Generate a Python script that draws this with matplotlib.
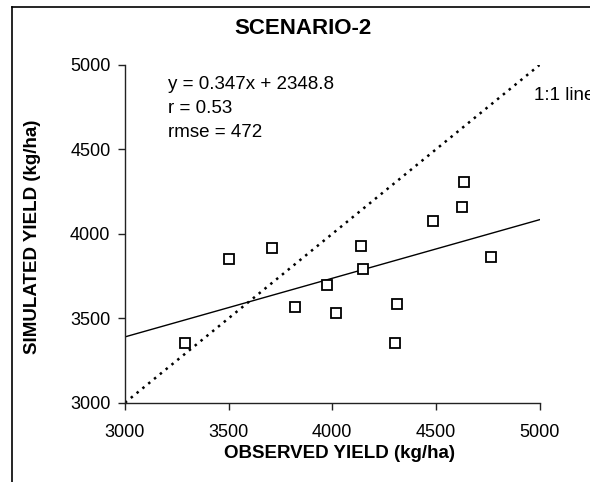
import matplotlib
matplotlib.use("Agg")
import matplotlib.pyplot as plt
from matplotlib.lines import Line2D

plt.rcParams['font.family'] = ['Liberation Sans', 'DejaVu Sans']

# Observed vs simulated grain yield (kg/ha)
observed = [3291, 3500, 3708, 3820, 3976, 4020, 4141, 4148, 4312, 4305, 4488, 4626, 4635, 4764]
simulated = [3354, 3853, 3916, 3567, 3695, 3533, 3928, 3791, 3587, 3354, 4076, 4161, 4310, 3865]

# Fitted regression and statistics
slope = 0.347
intercept = 2348.8
r_value = 0.53
rmse = 472

axis_min, axis_max = 3000, 5000
ticks = [3000, 3500, 4000, 4500, 5000]

W, H = 590, 482
fig = plt.figure(figsize=(W / 100, H / 100), dpi=100)
ax = fig.add_axes([125 / W, (H - 402.7) / H, 414.5 / W, 337.7 / H])

# 1:1 line
ax.plot([axis_min, axis_max], [axis_min, axis_max], color='black',
        linestyle=(0, (1, 2)), linewidth=1.8, zorder=2)

# regression line
fit_x = [axis_min, axis_max]
fit_y = [slope * v + intercept for v in fit_x]
ax.plot(fit_x, fit_y, color='black', linewidth=1.0, zorder=2)

# observations
ax.plot(observed, simulated, linestyle='none', marker='s', markersize=7,
        markerfacecolor='white', markeredgecolor='black', markeredgewidth=1.3, zorder=3)

ax.set_xlim(axis_min, axis_max)
ax.set_ylim(axis_min, axis_max)
ax.set_xticks(ticks)
ax.set_yticks(ticks)
for s in ('top', 'right'):
    ax.spines[s].set_visible(False)
for s in ('left', 'bottom'):
    ax.spines[s].set_linewidth(1.0)
    ax.spines[s].set_color('#222222')
ax.tick_params(direction='out', length=5, width=1.0, labelsize=13, colors='#222222')
ax.tick_params(axis='x', pad=10.5)
ax.tick_params(axis='y', pad=5.5)
for lbl in ax.get_xticklabels() + ax.get_yticklabels():
    lbl.set_color('black')

# statistics block, placed in pixel offsets from the axes origin
def px_to_data(px, py):
    return (axis_min + (px - 125) * (axis_max - axis_min) / 414.5,
            axis_min + (402.7 - py) * (axis_max - axis_min) / 337.7)

txt = dict(fontsize=13.5, color='black', va='center', ha='left')
ax.text(*px_to_data(168, 85), f"y = {slope}x + {intercept}", **txt)
ax.text(*px_to_data(168, 109), f"r = {r_value}", **txt)
ax.text(*px_to_data(168, 133), f"rmse = {rmse}", **txt)
ax.text(*px_to_data(534, 96), "1:1 line", clip_on=False, **txt)

fig.text(303 / W, 1 - 29 / H, "SCENARIO-2", fontsize=16, fontweight='bold',
         ha='center', va='center')
fig.text(340 / W, 1 - 454 / H, "OBSERVED YIELD (kg/ha)", fontsize=13.5,
         fontweight='bold', ha='center', va='center')
fig.text(33 / W, 1 - 237 / H, "SIMULATED YIELD (kg/ha)", fontsize=13.5,
         fontweight='bold', ha='center', va='center', rotation=90)

# chart border (left and top edges fall inside the canvas)
fig.add_artist(Line2D([12 / W, 12 / W], [0, 1 - 7 / H], transform=fig.transFigure,
                      color='black', linewidth=1.2))
fig.add_artist(Line2D([12 / W, 1], [1 - 7 / H, 1 - 7 / H], transform=fig.transFigure,
                      color='black', linewidth=1.2))

fig.savefig("out.png", dpi=100, facecolor='white')
